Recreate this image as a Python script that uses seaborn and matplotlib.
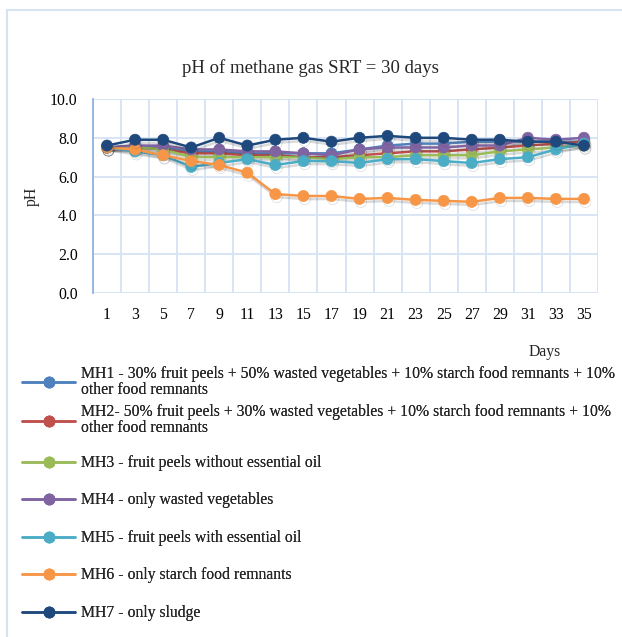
import numpy as np
import pandas as pd
import seaborn as sns
import matplotlib
matplotlib.use("Agg")
import matplotlib.pyplot as plt
import matplotlib.patheffects as pe
from matplotlib.lines import Line2D
from matplotlib.patches import Rectangle

days = [1, 3, 5, 7, 9, 11, 13, 15, 17, 19, 21, 23, 25, 27, 29, 31, 33, 35]
mh1 = [7.5, 7.6, 7.5, 7.3, 7.3, 7.2, 7.2, 7.2, 7.2, 7.4, 7.6, 7.7, 7.7, 7.8, 7.8, 7.8, 7.8, 7.8]
mh2 = [7.5, 7.5, 7.4, 7.2, 7.2, 7.1, 7.1, 7.0, 7.0, 7.1, 7.2, 7.3, 7.3, 7.4, 7.5, 7.6, 7.7, 7.8]
mh3 = [7.5, 7.5, 7.4, 7.0, 7.0, 7.0, 7.0, 7.0, 6.9, 7.0, 7.0, 7.1, 7.1, 7.1, 7.3, 7.4, 7.5, 7.6]
mh4 = [7.5, 7.6, 7.6, 7.4, 7.4, 7.3, 7.3, 7.2, 7.1, 7.4, 7.5, 7.5, 7.5, 7.6, 7.6, 8.0, 7.9, 8.0]
mh5 = [7.5, 7.3, 7.1, 6.5, 6.7, 6.9, 6.6, 6.8, 6.8, 6.7, 6.9, 6.9, 6.8, 6.7, 6.9, 7.0, 7.4, 7.7]
mh6 = [7.5, 7.4, 7.1, 6.8, 6.6, 6.2, 5.1, 5.0, 5.0, 4.85, 4.9, 4.8, 4.75, 4.7, 4.9, 4.9, 4.85, 4.85]
mh7 = [7.6, 7.9, 7.9, 7.5, 8.0, 7.6, 7.9, 8.0, 7.8, 8.0, 8.1, 8.0, 8.0, 7.9, 7.9, 7.8, 7.8, 7.6]

labels = [
    "MH1 - 30% fruit peels + 50% wasted vegetables + 10% starch food remnants + 10%\nother food remnants",
    "MH2- 50% fruit peels + 30% wasted vegetables + 10% starch food remnants + 10%\nother food remnants",
    "MH3 - fruit peels without essential oil",
    "MH4 - only wasted vegetables",
    "MH5 - fruit peels with essential oil",
    "MH6 - only starch food remnants",
    "MH7 - only sludge",
]
colors = ["#4F81BD", "#C0504D", "#9BBB59", "#8064A2", "#4BACC6", "#F79646", "#1F497D"]
series = [mh1, mh2, mh3, mh4, mh5, mh6, mh7]

sns.set_theme(style="white")
plt.rcParams["font.family"] = ["Liberation Serif", "DejaVu Serif"]

W, H = 622, 637
FS = 11.3
fig = plt.figure(figsize=(W / 100, H / 100), dpi=100)
ax = fig.add_axes([93 / W, 1 - 293 / H, (598 - 93) / W, (293 - 99) / H])

pos = np.arange(len(days))
for lab, col, vals in zip(labels, colors, series):
    df = pd.DataFrame({"pos": pos, "pH": vals})
    sns.lineplot(data=df, x="pos", y="pH", ax=ax, color=col, linewidth=1.8,
                 marker="o", markersize=8, markeredgecolor=col, markeredgewidth=0.5,
                 legend=False,
                 path_effects=[pe.SimpleLineShadow(offset=(1.0, -2.2), shadow_color="#333333", alpha=0.18),
                               pe.Normal()])

ax.set_xlim(-0.5, len(days) - 0.5)
ax.set_ylim(0, 10)
ax.set_yticks(np.arange(0, 10.1, 2))
ax.set_yticklabels([f"{v:.1f}" for v in np.arange(0, 10.1, 2)])
ax.set_xticks(pos)
ax.set_xticklabels([str(d) for d in days])
ax.set_xticks(np.arange(-0.5, len(days), 1), minor=True)
ax.grid(False)
ax.grid(True, which="minor", axis="x", color="#D6E3F3", linewidth=1.3)
ax.grid(True, which="major", axis="y", color="#D6E3F3", linewidth=1.3)
ax.set_axisbelow(True)
for s in ["top", "right", "bottom"]:
    ax.spines[s].set_visible(False)
ax.spines["left"].set_color("#8DB3E2")
ax.spines["left"].set_linewidth(1.3)
ax.tick_params(axis="both", which="both", length=0, labelsize=FS, colors="#000000")
ax.tick_params(axis="y", pad=11)
ax.tick_params(axis="x", pad=10)
ax.set_xlabel("")
ax.set_ylabel("")

fig.text(310 / W, 1 - 68 / H, "pH of methane gas SRT = 30 days", ha="center", va="center", fontsize=13.5)
fig.text(32 / W, 1 - 196 / H, "pH", ha="center", va="center", rotation=90, fontsize=FS)
fig.text(545 / W, 1 - 352 / H, "Days", ha="center", va="center", fontsize=FS)

# chart border
fig.add_artist(Rectangle((7 / W, -0.05), 1.2, 1 - 10 / H + 0.05, transform=fig.transFigure,
                         fill=False, edgecolor="#D6E3F3", linewidth=1.5))

# legend entries
ys = [373, 412, 463, 500, 538, 575, 613]
for l, col, y in zip(labels, colors, ys):
    nlines = l.count("\n") + 1
    yc = y + (nlines - 1) * 8.5
    h = Line2D([], [], color=col, linewidth=1.8, marker="o", markersize=8,
               markeredgecolor=col, markeredgewidth=0.5)
    leg = fig.legend([h], [l], loc="center left", bbox_to_anchor=(22 / W, 1 - yc / H),
                     frameon=False, fontsize=FS, handlelength=3.4, handletextpad=0.35,
                     borderpad=0, borderaxespad=0)
    for t in leg.get_texts():
        t.set_linespacing(1.0)
    fig.add_artist(leg)

fig.savefig("out.png", dpi=100)
